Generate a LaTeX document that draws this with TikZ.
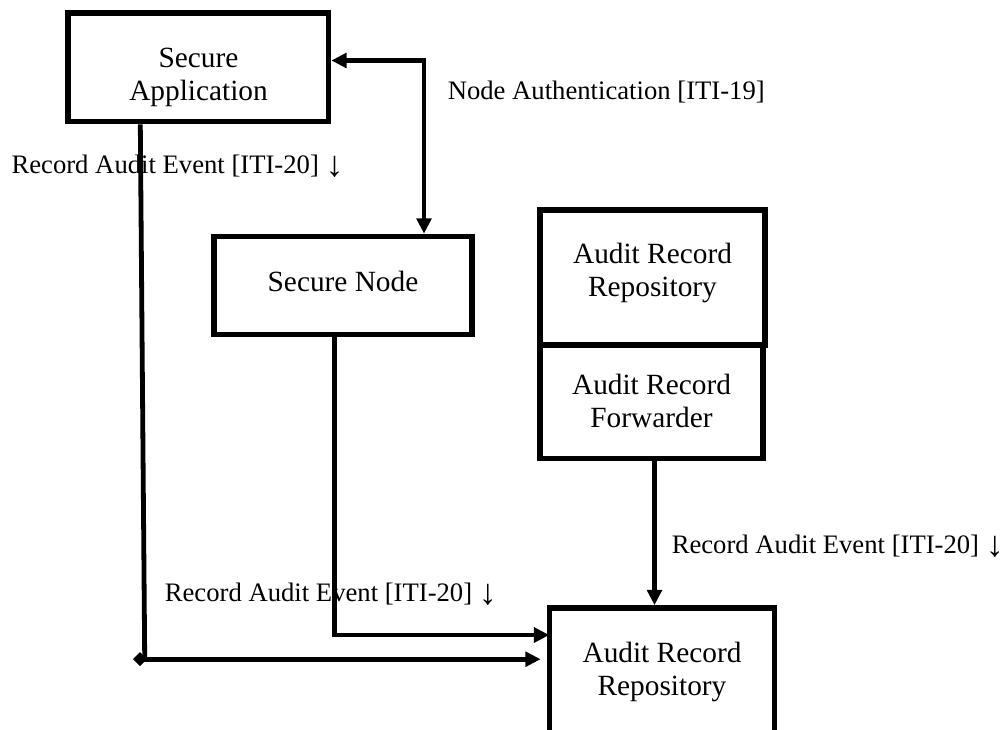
\documentclass[tikz,border=0pt]{standalone}
\usepackage{fontspec}
\usepackage{graphicx}
\setmainfont{Liberation Serif}
\newcommand\myDownArr{\raisebox{-0.12em}{\scalebox{1.35}{↓}}}
\usetikzlibrary{arrows.meta}
\begin{document}
\begin{tikzpicture}[x=0.75pt,y=-0.75pt,
  box/.style={draw, line width=4.3pt, inner sep=0pt},
  txt/.style={font=\fontsize{22}{24.8}\selectfont, align=center, inner sep=0pt},
  lbl/.style={font=\fontsize{20}{24.8}\selectfont, anchor=base west, inner sep=0pt},
  conn/.style={line width=3.6pt},
  tip/.tip={Triangle[length=11.5pt,width=11pt]},
  dia/.tip={Diamond[length=10.5pt,width=10.5pt]}
]
\clip (0,0) rectangle (1005,729);
% boxes
\node[box, minimum width=195.4pt, minimum height=81.4pt] (sa) at (198.25,67.25) {};
\node[txt] (sat) at (198.5,77.3) {Secure\\Application};
\node[box, minimum width=193.5pt, minimum height=73.5pt] (sn) at (343,285.5) {};
\node[txt] (snt) at (343,281) {Secure Node};
\node[box, minimum width=168.75pt, minimum height=101.25pt] (arra) at (652.5,277.5) {};
\node[txt] (arrat) at (652.5,273.2) {Audit Record\\Repository};
\node[box, line width=4pt, minimum width=167.25pt, minimum height=85.1pt] (fw) at (651.5,401.75) {};
\node[txt] (fwt) at (651.5,400.5) {Audit Record\\Forwarder};
\node[box, minimum width=168.75pt, minimum height=112.5pt] (arrb) at (662,683) {};
\node[txt] (arrbt) at (662,672) {Audit Record\\Repository};
% labels
\node[lbl] (l1) at (447.5,99.3) {Node Authentication [ITI-19]};
\node[lbl] (l2) at (11.3,173.3) {Record Audit Event [ITI-20] \myDownArr};
\node[lbl] (l3) at (164.6,601.7) {Record Audit Event [ITI-20] \myDownArr};
\node[lbl] (l4) at (671.5,553.3) {Record Audit Event [ITI-20] \myDownArr};
% coordinates
\coordinate (na) at (424,60.5);
\coordinate (c0) at (140.3,0);
\coordinate (c1) at (144.7,657);
\coordinate (d) at (133,659.2);
\coordinate (c2) at (334.3,635);
\coordinate (c3) at (654.5,0);
% connectors
\draw[conn, tip-tip] (sa.east |- na) -- (na) -- (sn.north -| na);
\draw[conn] (sa.south -| c0) -- (c1);
\draw[conn, dia-tip, shorten >=4.5pt] (d) -- (arrb.west |- d);
\draw[conn, -tip, shorten >=-2pt] (sn.south -| c2) -- (c2) -- (arrb.west |- c2);
\draw[conn, -tip] (fw.south -| c3) -- (arrb.north -| c3);
\end{tikzpicture}
\end{document}
